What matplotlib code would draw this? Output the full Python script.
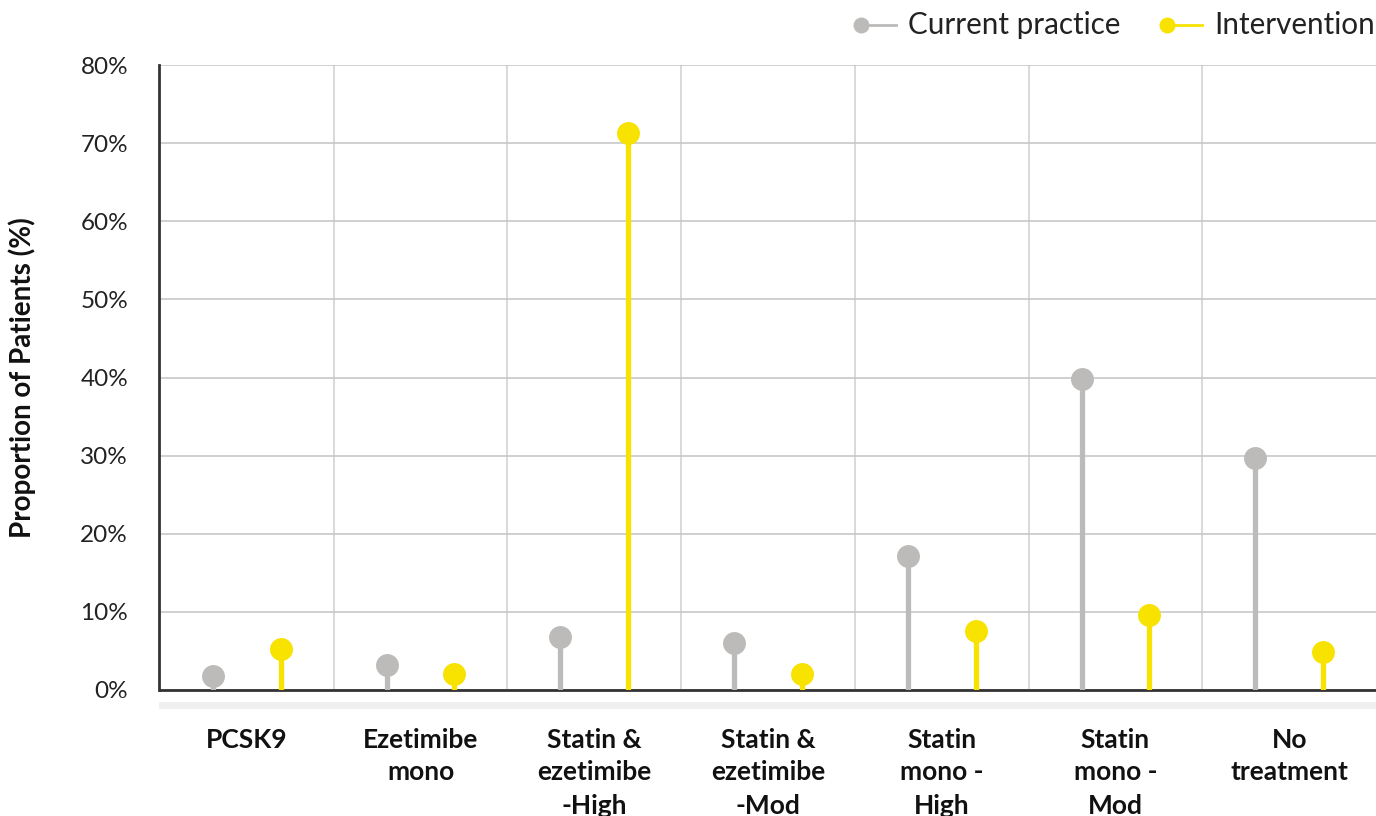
import numpy as np
import matplotlib.pyplot as plt
from matplotlib.lines import Line2D
from matplotlib.patches import Rectangle

plt.rcParams['font.family'] = ['Lato', 'DejaVu Sans']

categories = ['PCSK9', 'Ezetimibe\nmono', 'Statin &\nezetimibe\n-High',
              'Statin &\nezetimibe\n-Mod', 'Statin\nmono -\nHigh',
              'Statin\nmono -\nMod', 'No\ntreatment']
current = [1.8, 3.2, 6.8, 6.0, 17.2, 39.8, 29.7]
intervention = [5.2, 2.0, 71.3, 2.0, 7.6, 9.6, 4.9]
yticks = [0, 10, 20, 30, 40, 50, 60, 70, 80]

GREY = '#bcbbb9'
YELLOW = '#f7e200'

fig = plt.figure(figsize=(13.76, 8.16), dpi=100)
ax = fig.add_axes([160 / 1376, 126 / 816, 1216 / 1376, 625 / 816])

x = np.arange(len(categories))
off = 0.195

# stems then heads
ax.vlines(x - off, 0, current, color=GREY, lw=3.8, zorder=3)
ax.vlines(x + off, 0, intervention, color=YELLOW, lw=3.8, zorder=3)
ax.plot(x - off, current, 'o', ms=16.5, color=GREY, mec='none', zorder=4)
ax.plot(x + off, intervention, 'o', ms=16.5, color=YELLOW, mec='none', zorder=4)

ax.set_xlim(-0.5, len(categories) - 0.5)
ax.set_ylim(0, 80)

ax.set_yticks(yticks)
ax.set_yticklabels([f'{v}%' for v in yticks])
ax.set_xticks(x)
ax.set_xticklabels(categories, linespacing=1.45)
ax.tick_params(axis='y', length=0, pad=22, labelsize=17.5, labelcolor='#222222')
ax.tick_params(axis='x', length=0, pad=27, labelsize=19, labelcolor='#111111')
for t in ax.get_xticklabels():
    t.set_fontweight('bold')

# category boundaries as vertical grid
ax.set_xticks(np.arange(0.5, len(categories) - 0.5), minor=True)
ax.tick_params(axis='x', which='minor', length=0)
ax.grid(True, which='minor', axis='x', color='#cfcfcf', lw=1.1, zorder=0)
ax.grid(True, which='major', axis='y', color='#c4c4c4', lw=1.1, zorder=0)
ax.set_axisbelow(True)

for s in ['top', 'right']:
    ax.spines[s].set_visible(False)
ax.spines['left'].set_color('#333333')
ax.spines['left'].set_linewidth(2)
ax.spines['bottom'].set_color('#333333')
ax.spines['bottom'].set_linewidth(2)
ax.spines['left'].set_position(('outward', 1))

ax.set_ylabel('Proportion of Patients (%)', fontsize=20, fontweight='bold',
              color='#111111')
ax.yaxis.set_label_coords(-124 / 1216, 0.5)

# light band under the axis
fig.add_artist(Rectangle((159 / 1376, 107 / 816), 1217 / 1376, 7 / 816,
                         transform=fig.transFigure, color='#efefef', lw=0))

# legend
ly = 1 - 25 / 816
for x0, col, label in [(861, GREY, 'Current practice'),
                       (1167, YELLOW, 'Intervention')]:
    fig.add_artist(Line2D([x0 / 1376, (x0 + 35) / 1376], [ly, ly],
                          transform=fig.transFigure, color=col, lw=2))
    fig.add_artist(Line2D([x0 / 1376], [ly], transform=fig.transFigure,
                          marker='o', ms=11.5, color=col, mec='none'))
    fig.text((x0 + 47) / 1376, ly, label, fontsize=21.3, color='#222222',
             va='center', ha='left')

fig.savefig('out.png', dpi=100)
